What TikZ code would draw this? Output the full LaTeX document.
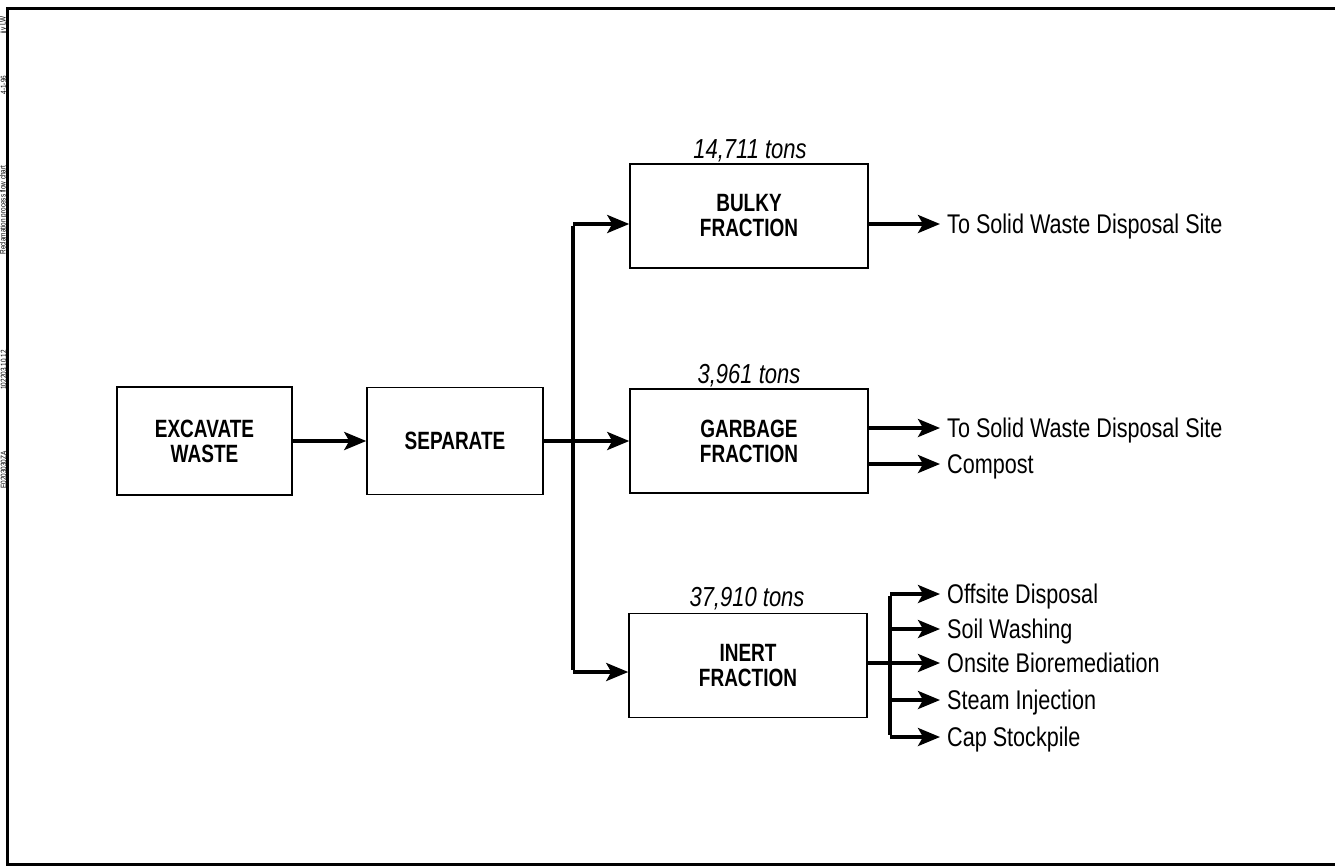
\documentclass[tikz,border=0pt]{standalone}
\usepackage{fontspec}
\setmainfont{Liberation Sans}[FakeStretch=0.8, BoldFeatures={FakeStretch=0.76}]
\usetikzlibrary{arrows.meta}
\begin{document}
\begin{tikzpicture}[x=1pt,y=-1pt,
  box/.style={draw, line width=1.5pt, inner sep=0pt, align=center,
    font=\fontsize{25}{25}\selectfont\bfseries},
  fracbox/.style={box, minimum width=238pt, minimum height=104pt},
  flow/.style={line width=3.5pt},
  arr/.style={flow, -{Stealth[length=22pt,width=18pt,inset=5pt]}},
  outtxt/.style={anchor=west, inner sep=0pt, text height=19pt, text depth=0pt,
    font=\fontsize{27}{29}\selectfont},
  tons/.style={inner sep=0pt, anchor=base, font=\fontsize{27.5}{29}\selectfont\itshape},
  margintxt/.style={rotate=90, inner sep=0pt, font=\fontsize{8}{8}\selectfont}
]
\useasboundingbox (0,0) rectangle (1335,867);
% frame
\draw[line width=3pt] (1336,9) -- (7,9) -- (7,864) -- (1336,864);
% margin text
\node[margintxt] (m1) at (3.5,470) {E0203030ZA};
\node[margintxt] (m2) at (3.5,370) {102203.10.12};
\node[margintxt] (m3) at (3.5,210) {Reclamation process flow chart};
\node[margintxt] (m4) at (3.5,85) {4-1-96};
\node[margintxt] (m5) at (3.5,25) {jjy LW};

% boxes
\node[box, minimum width=175pt, minimum height=108pt] (exc) at (204.5,441) {EXCAVATE\\WASTE};
\node[box, minimum width=176pt, minimum height=107pt] (sep) at (455,441) {SEPARATE};
\node[fracbox] (bulky) at (749,216) {BULKY\\FRACTION};
\node[fracbox] (garb) at (749,441) {GARBAGE\\FRACTION};
\node[fracbox] (inert) at (748,665.5) {INERT\\FRACTION};

% tonnage labels
\node[tons] (tb) at (750,158) {14,711 tons};
\node[tons] (tg) at (749,383) {3,961 tons};
\node[tons] (ti) at (747,606) {37,910 tons};

% output texts
\node[outtxt] (o1) at (947,224) {To Solid Waste Disposal Site};
\node[outtxt] (o2) at (947,428) {To Solid Waste Disposal Site};
\node[outtxt] (o3) at (947,464) {Compost};
\node[outtxt] (o4) at (947,594) {Offsite Disposal};
\node[outtxt] (o5) at (947,629) {Soil Washing};
\node[outtxt] (o6) at (947,663) {Onsite Bioremediation};
\node[outtxt] (o7) at (947,700) {Steam Injection};
\node[outtxt] (o8) at (947,737) {Cap Stockpile};

% main flow
\draw[arr] (exc.east) -- (sep.west);
\draw[arr] (sep.east) -- (garb.west);
\coordinate (jb) at (573,224);
\coordinate (ji) at (573,672);
\draw[flow] ([yshift=-1.75pt]jb) -- ([yshift=1.75pt]ji);
\draw[arr] (jb) -- (jb -| bulky.west);
\draw[arr] (ji) -- (ji -| inert.west);

% outputs
\draw[arr] (bulky.east |- o1.west) -- ([xshift=-7pt]o1.west);
\draw[arr] (garb.east |- o2.west) -- ([xshift=-7pt]o2.west);
\draw[arr] (garb.east |- o3.west) -- ([xshift=-7pt]o3.west);
\coordinate (ib) at (890,663);
\draw[flow] (inert.east |- ib) -- (ib);
\draw[flow] ([yshift=-1.75pt]890,594) -- ([yshift=1.75pt]890,737);
\foreach \o in {o4,o5,o6,o7,o8}{
  \draw[arr] (ib |- \o.west) -- ([xshift=-7pt]\o.west);
}
\end{tikzpicture}
\end{document}
